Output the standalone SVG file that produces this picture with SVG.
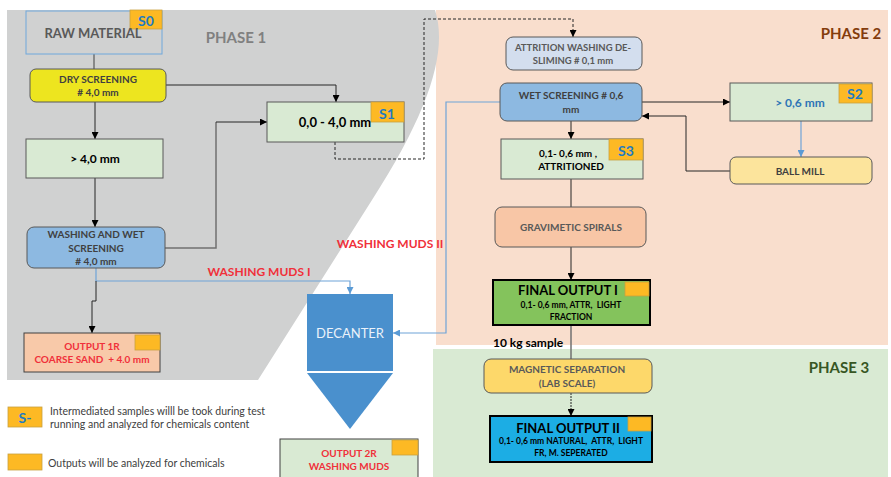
<svg xmlns="http://www.w3.org/2000/svg" width="891" height="477" viewBox="0 0 891 477">
<defs>
<marker id="ab" viewBox="0 0 10 10" refX="10" refY="5" markerWidth="7" markerHeight="7" orient="auto" markerUnits="userSpaceOnUse"><path d="M0,0 L10,5 L0,10 z" fill="#000"/></marker>
<marker id="au" viewBox="0 0 10 10" refX="10" refY="5" markerWidth="7" markerHeight="7" orient="auto" markerUnits="userSpaceOnUse"><path d="M0,0 L10,5 L0,10 z" fill="#5B9BD5"/></marker>
<style>
text{font-family:Lato,"Open Sans","Liberation Sans",sans-serif;font-weight:bold;text-anchor:middle;dominant-baseline:central}
.n{stroke:#595959;stroke-width:1}
.g{fill:#D9EAD3}
.bl{fill:#8DB9E1}
.badge{fill:#FDB924;stroke:#C9A040;stroke-width:0.8}
.bt{fill:#1F7BC1;font-size:14px}
.s{font-size:10px;fill:#404040}
.sg{font-size:10px;fill:#595959}
.red{fill:#F0303A}
.ph{font-size:15px}
.c{fill:none;stroke:#262626;stroke-width:1}
.cg{fill:none;stroke:#707070;stroke-width:1.5}
.cu{fill:none;stroke:#6FA3D8;stroke-width:1.2}
.leg{font-weight:normal;font-size:10.5px;fill:#404040;text-anchor:start}
</style>
</defs>
<rect width="891" height="477" fill="#FFFFFF"/>
<g id="regions">
<rect x="436" y="10" width="452" height="335" fill="#F9DECD"/>
<rect x="433" y="349" width="455" height="128" fill="#D9EAD3"/>
<path d="M7,10 L435,10 C448,50 430,110 372,200 L258,380 L7,380 Z" fill="#D0D1D1"/>
<text x="236" y="37" class="ph" fill="#808080">PHASE 1</text>
<text x="851" y="33" class="ph" fill="#843C0C">PHASE 2</text>
<text x="839" y="367" class="ph" fill="#375623">PHASE 3</text>
</g>
<g id="connectors">
<path class="cg" d="M94,54 V69"/>
<path class="c" d="M95,102 V139" marker-end="url(#ab)"/>
<path class="c" d="M166,85 H336 V102" marker-end="url(#ab)"/>
<path class="c" d="M95,178 V227" marker-end="url(#ab)"/>
<path class="cg" d="M165,248 H216 V122"/>
<path class="c" d="M216,122 H267" marker-end="url(#ab)"/>
<path class="cu" d="M96,268 V281 H350 V294" marker-end="url(#au)"/>
<path class="c" d="M96,281 V301 H92 V333" marker-end="url(#ab)"/>
<path class="c" d="M335,142 V159 H424 V19 H573 V37" stroke-dasharray="3,2" marker-end="url(#ab)"/>
<path class="c" d="M642,102 H730" marker-end="url(#ab)"/>
<path class="c" d="M571,121 V139" marker-end="url(#ab)"/>
<path class="cu" d="M801,121 V157" marker-end="url(#au)"/>
<path class="c" d="M730,171 H686 V116 H642" marker-end="url(#ab)"/>
<path class="cu" d="M500,102 H446 V333 H393" marker-end="url(#au)"/>
<path class="c" d="M571,179 V207"/>
<path class="c" d="M571,247 V280" marker-end="url(#ab)"/>
<path class="cg" d="M571,325 V359" stroke="#909090"/>
<path class="c" d="M571,393 V416" stroke="#707070" stroke-dasharray="2,1" marker-end="url(#ab)"/>
</g>
<g id="raw-material">
<rect x="26" y="11" width="136" height="43" fill="#D0D1D1" stroke="#6FA8DC"/>
<rect x="130" y="10" width="32" height="19" class="badge"/>
<text x="146" y="20" class="bt">S0</text>
<text x="93" y="33" font-size="13" fill="#595959">RAW MATERIAL</text>
</g>
<g id="dry-screening">
<rect x="30" y="69" width="136" height="33" rx="6" fill="#EDE51F" class="n"/>
<text x="98" y="79" class="s">DRY SCREENING</text>
<text x="98" y="92" class="s"># 4,0 mm</text>
</g>
<g id="over-4mm">
<rect x="26" y="139" width="137" height="39" class="g n"/>
<text x="95" y="158" font-size="12" fill="#000">&gt; 4,0 mm</text>
</g>
<g id="s1">
<rect x="267" y="102" width="137" height="40" class="g n"/>
<rect x="371" y="102" width="33" height="20" class="badge"/>
<text x="387" y="113" class="bt">S1</text>
<text x="335" y="122" font-size="13" fill="#000">0,0 - 4,0 mm</text>
</g>
<g id="washing">
<rect x="27" y="227" width="138" height="41" rx="7" class="bl n"/>
<text x="96" y="234" class="s">WASHING AND WET</text>
<text x="96" y="248" class="s">SCREENING</text>
<text x="96" y="261" class="s"># 4,0 mm</text>
</g>
<g id="output-1r">
<rect x="24" y="333" width="136" height="39" fill="#F8C9A9" stroke="#404040"/>
<rect x="135" y="335" width="25" height="15" class="badge"/>
<text x="92" y="346" class="s red">OUTPUT 1R</text>
<text x="92" y="359" class="s red" xml:space="preserve">COARSE SAND  + 4.0 mm</text>
</g>
<g id="labels">
<text x="259" y="271" font-size="12" class="red">WASHING MUDS I</text>
<text x="390" y="243" font-size="12" class="red">WASHING MUDS II</text>
<text x="493" y="342" font-size="12" fill="#000" style="text-anchor:start">10 kg sample</text>
</g>
<g id="decanter">
<rect x="307" y="294" width="86" height="77" fill="#4A90CD"/>
<polygon points="307,373 393,373 350,429" fill="#4A90CD"/>
<text x="350" y="333" font-size="13" font-weight="normal" fill="#EAF2FA" style="font-weight:normal">DECANTER</text>
</g>
<g id="output-2r">
<rect x="280" y="439" width="138" height="45" class="g" stroke="#404040"/>
<rect x="392" y="440" width="26" height="15" class="badge"/>
<text x="349" y="453" class="s red">OUTPUT 2R</text>
<text x="349" y="466" class="s red">WASHING MUDS</text>
</g>
<g id="attrition">
<rect x="506" y="37" width="136" height="33" rx="7" fill="#D3DEEE" class="n"/>
<text x="573" y="47" class="sg" font-size="9.5" style="font-size:9.5px">ATTRITION WASHING DE-</text>
<text x="573" y="60" class="sg" style="font-size:9.5px">SLIMING # 0,1 mm</text>
</g>
<g id="wet-screening">
<rect x="500" y="83" width="142" height="38" rx="7" class="bl n"/>
<text x="571" y="95" class="s">WET SCREENING # 0,6</text>
<text x="571" y="109" class="s">mm</text>
</g>
<g id="s2">
<rect x="730" y="83" width="142" height="38" class="g n"/>
<rect x="839" y="84" width="33" height="19" class="badge"/>
<text x="855" y="93" class="bt">S2</text>
<text x="800" y="102" font-size="12" fill="#2E75B6">&gt; 0,6 mm</text>
</g>
<g id="ball-mill">
<rect x="730" y="157" width="142" height="27" rx="6" fill="#FCE49C" class="n"/>
<text x="800" y="171" class="s">BALL MILL</text>
</g>
<g id="s3">
<rect x="501" y="139" width="142" height="40" class="g n"/>
<rect x="609" y="139" width="34" height="21" class="badge"/>
<text x="626" y="150" class="bt">S3</text>
<text x="568" y="153" class="s" fill="#000" style="fill:#000">0,1- 0,6 mm ,</text>
<text x="571" y="166" class="s" style="fill:#000">ATTRITIONED</text>
</g>
<g id="gravimetic">
<rect x="495" y="207" width="151" height="40" rx="7" fill="#F8C6A6" class="n"/>
<text x="571" y="227" class="sg">GRAVIMETIC SPIRALS</text>
</g>
<g id="final-output-1">
<rect x="493" y="280" width="157" height="45" fill="#84C35C" stroke="#000" stroke-width="2"/>
<rect x="625" y="282" width="24" height="14" class="badge"/>
<text x="568" y="290" font-size="13" fill="#000">FINAL OUTPUT I</text>
<text x="571" y="305" font-size="8.5" fill="#000" xml:space="preserve">0,1- 0,6 mm, ATTR,  LIGHT</text>
<text x="571" y="317" font-size="8.5" fill="#000">FRACTION</text>
</g>
<g id="magnetic">
<rect x="484" y="359" width="168" height="34" rx="7" fill="#FDD86A" class="n"/>
<text x="567" y="369" class="sg">MAGNETIC SEPARATION</text>
<text x="567" y="383" class="sg">(LAB SCALE)</text>
</g>
<g id="final-output-2">
<rect x="490" y="416" width="162" height="46" fill="#1CADE4" stroke="#000" stroke-width="2"/>
<rect x="628" y="417" width="23" height="14" class="badge"/>
<text x="568" y="428" font-size="13" fill="#000">FINAL OUTPUT II</text>
<text x="571" y="441" font-size="8.5" fill="#000" xml:space="preserve">0,1- 0,6 mm NATURAL,  ATTR,  LIGHT</text>
<text x="571" y="453" font-size="8.5" fill="#000">FR, M. SEPERATED</text>
</g>
<g id="legend">
<rect x="8" y="407" width="34" height="20" class="badge"/>
<text x="25" y="417" class="bt">S-</text>
<text x="50" y="411" class="leg">Intermediated samples willl be took during test</text>
<text x="50" y="424" class="leg">running and analyzed for chemicals content</text>
<rect x="8" y="454" width="34" height="16" class="badge"/>
<text x="48" y="463" class="leg">Outputs will be analyzed for chemicals</text>
</g>
</svg>
